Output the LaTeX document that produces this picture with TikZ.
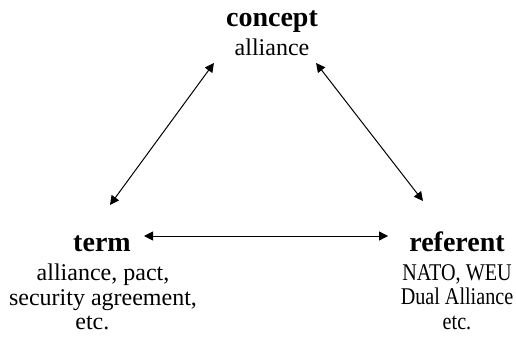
\documentclass[tikz,border=0pt]{standalone}
\usepackage{fontspec}
\setmainfont{Liberation Serif}
\newfontfamily\narrowserif[FakeStretch=0.84]{Liberation Serif}
\usetikzlibrary{arrows.meta}
\tikzset{
  head/.style={font=\fontsize{21}{24}\selectfont\bfseries, inner sep=0pt, anchor=base},
  body/.style={font=\fontsize{18}{18.4}\selectfont, inner sep=0pt, align=center},
  link/.style={line width=0.75pt,
    {Triangle[length=6.8pt,width=6.8pt]}-{Triangle[length=6.8pt,width=6.8pt]}}
}
\begin{document}
\begin{tikzpicture}[x=0.75pt,y=0.75pt]
  \useasboundingbox (0,0) rectangle (516,336);

  % Marking corner concept
  \node [head] (concept) at (272,309) {concept};
  \node [body, anchor=base] (conceptText) at (272,280) {alliance};

  % Marking corner term
  \node [head] (term) at (102,85) {term};
  \node [body, anchor=north] (termText) at (103,72) {alliance, pact,\\ security agreement,\\ etc.\hspace*{16pt}};

  % Marking corner referent
  \node [head] (referent) at (457,85) {referent};
  \node [body, anchor=north, font=\narrowserif\fontsize{18}{18.4}\selectfont] (referentText) at (457,72) {NATO, WEU\\ Dual Alliance\\ etc.};

  % Drawing arrow concept term
  \draw [link] ([shift={(-20.5,-7)}]conceptText.base west) -- ([shift={(8,30)}]term.north);

  % Drawing arrow concept referent
  \draw [link] ([shift={(6.5,-7)}]conceptText.base east) -- ([shift={(-34,30)}]referent.north);

  % Drawing arrow term referent
  \draw [link] ([shift={(13,15)}]term.base east) -- ([shift={(-21,15)}]referent.base west);
\end{tikzpicture}
\end{document}
